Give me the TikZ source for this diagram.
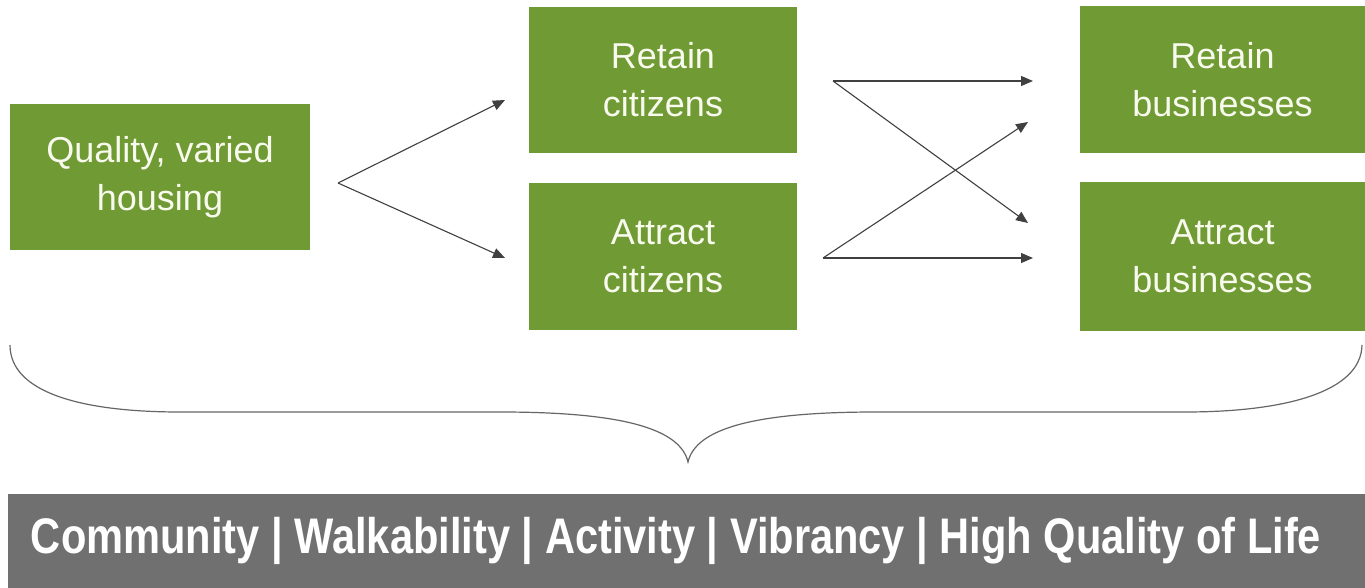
\documentclass[tikz,border=0pt]{standalone}
\usepackage{fontspec}
\usepackage{graphicx}
\setmainfont{Liberation Sans}
\usetikzlibrary{arrows.meta}
\definecolor{leaf}{RGB}{112,154,52}
\definecolor{boxtext}{RGB}{248,250,238}
\definecolor{band}{RGB}{112,112,112}
\definecolor{wire}{RGB}{64,64,64}
\tikzset{
  greenbox/.style={fill=leaf, draw=none, text=boxtext, align=center,
    font=\fontsize{18pt}{24pt}\selectfont, inner sep=0pt},
  flow/.style={draw=wire, line width=0.55pt,
    -{Triangle[length=6pt,width=5pt]}},
  brace/.style={draw=wire!80, line width=0.6pt},
}
\begin{document}
\begin{tikzpicture}[x=0.5pt,y=-0.5pt]
\useasboundingbox (0,0) rectangle (1365,588);
\fill[white] (0,0) rectangle (1365,588);

% green boxes
\node[greenbox, minimum width=150pt, minimum height=73pt] (housing) at (160,177) {\raisebox{-2pt}{\parbox{150pt}{\centering Quality, varied\\housing}}};
\node[greenbox, minimum width=134pt, minimum height=73pt] (retc) at (663,80) {\raisebox{-1pt}{\parbox{134pt}{\centering Retain\\citizens}}};
\node[greenbox, minimum width=134pt, minimum height=73.5pt] (attc) at (663,256.5) {\raisebox{-1pt}{\parbox{134pt}{\centering Attract\\citizens}}};
\node[greenbox, minimum width=142.5pt, minimum height=73.5pt] (retb) at (1222.5,79.5) {\raisebox{-1pt}{\parbox{142.5pt}{\centering Retain\\businesses}}};
\node[greenbox, minimum width=142.5pt, minimum height=74.5pt] (attb) at (1222.5,256.5) {\raisebox{-1pt}{\parbox{142.5pt}{\centering Attract\\businesses}}};

% arrow anchor points
\coordinate (hub) at (338,183);
\coordinate (inRC) at (505,100);
\coordinate (inAC) at (505,258);
\coordinate (outRC) at (833,81);
\coordinate (outAC) at (823,258);
\coordinate (inRB) at (1033,81);
\coordinate (inRBlow) at (1028,122);
\coordinate (inABhigh) at (1028,223);
\coordinate (inAB) at (1033,258);

\draw[flow] (hub) -- (inRC);
\draw[flow] (hub) -- (inAC);
\draw[flow] (outRC) -- (inRB);
\draw[flow] (outRC) -- (inABhigh);
\draw[flow] (outAC) -- (inRBlow);
\draw[flow] (outAC) -- (inAB);

% curly brace
\draw[brace] (10,345) .. controls (10,392) and (80,412) .. (180,412)
  -- (500,412) .. controls (620,412) and (680,428) .. (688,462)
  .. controls (696,428) and (756,412) .. (876,412)
  -- (1185,412) .. controls (1285,412) and (1361,392) .. (1362,345);

% bottom band
\fill[band] (8,494) rectangle (1365,588);
\node[text=white, font=\bfseries\fontsize{25pt}{30pt}\selectfont, inner sep=0pt] (values) at (676,541)
  {\resizebox{645pt}{\height}{Community | Walkability | Activity | Vibrancy | High Quality of Life}};
\end{tikzpicture}
\end{document}
